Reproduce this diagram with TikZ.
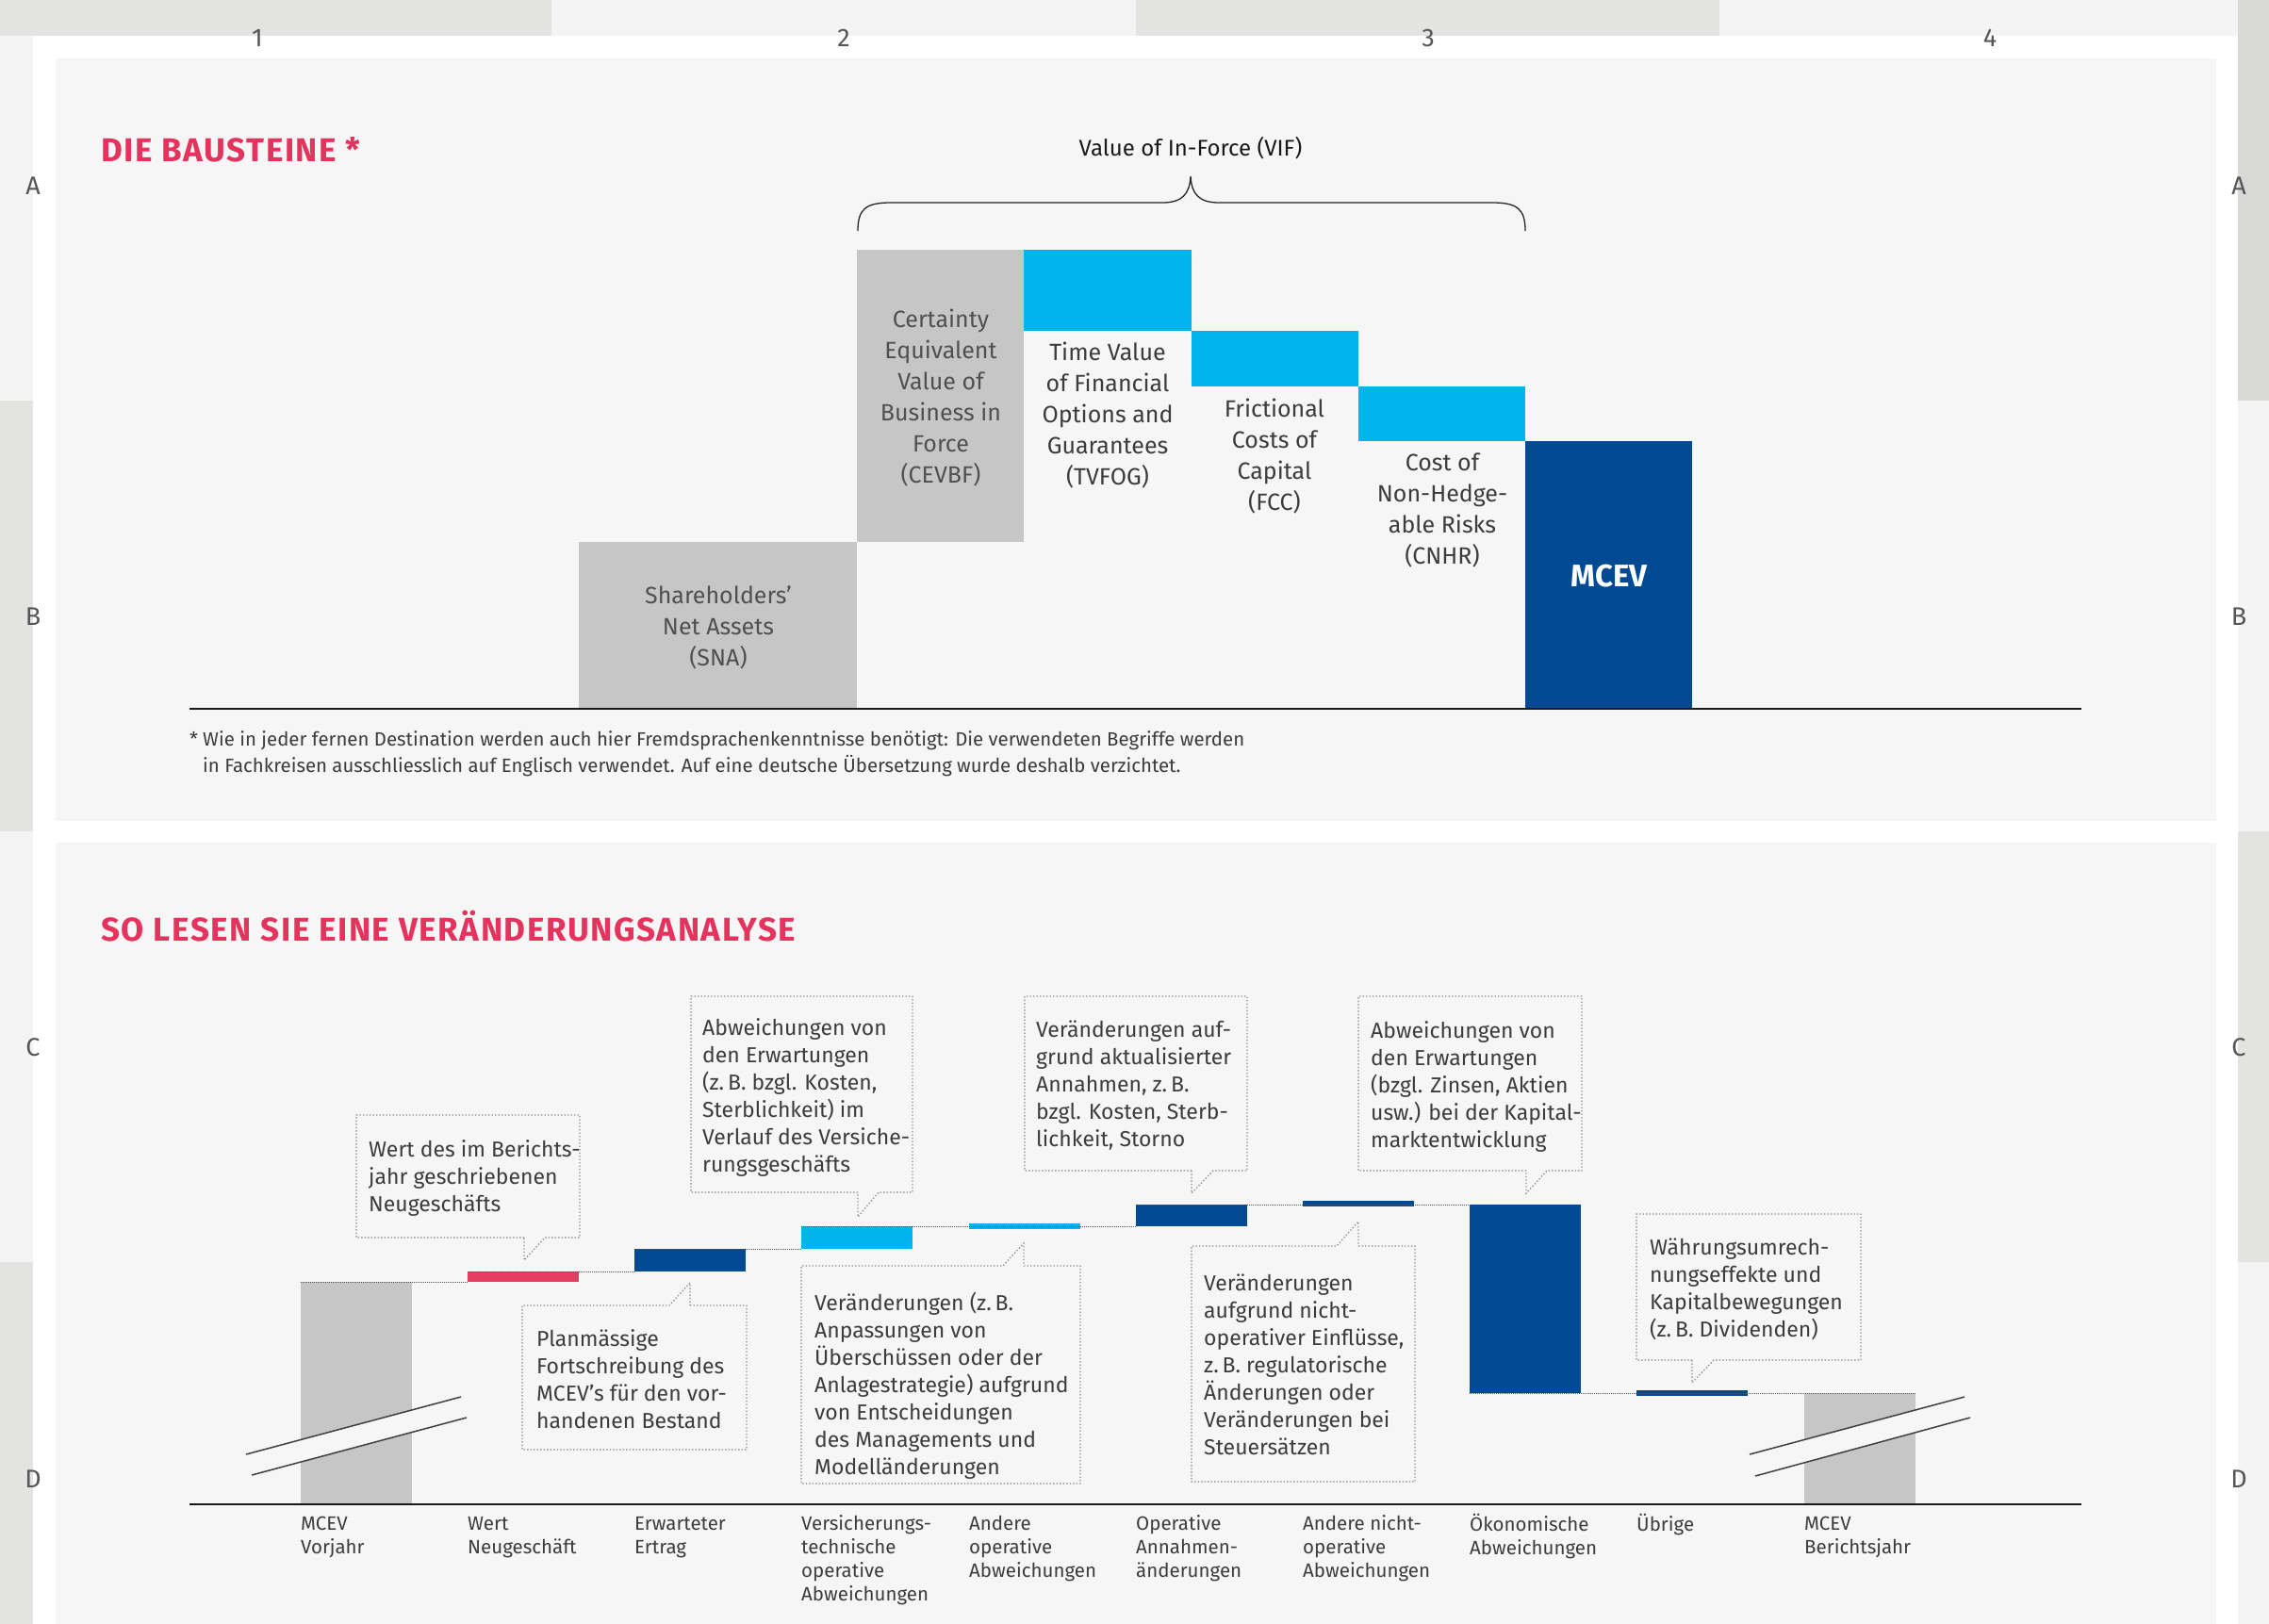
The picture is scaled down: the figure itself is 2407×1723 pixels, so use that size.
\documentclass[tikz,border=0pt]{standalone}
\usepackage{fontspec}
\setmainfont{Fira Sans}
\newfontfamily\titlefont[LetterSpace=4.5]{Fira Sans}
\definecolor{gdark}{HTML}{E3E3E2}
\definecolor{glight}{HTML}{F4F4F4}
\definecolor{panel}{HTML}{F6F6F6}
\definecolor{bargrey}{HTML}{C6C6C6}
\definecolor{cyanbar}{HTML}{00B5EC}
\definecolor{navy}{HTML}{004A93}
\definecolor{pinkbar}{HTML}{E83D63}
\definecolor{titlered}{HTML}{E4335C}
\definecolor{txt}{HTML}{3C3C3C}
\definecolor{txtgrey}{HTML}{505050}
\definecolor{dotc}{HTML}{8A8A8A}
\definecolor{linkc}{HTML}{555555}
\definecolor{gridtxt}{HTML}{555555}
\begin{document}
\begin{tikzpicture}[x=1pt,y=-1pt,
  gridlbl/.style={font=\fontsize{27}{30}\selectfont, text=gridtxt, inner sep=0},
  boxtxt/.style={font=\fontsize{25}{33}\selectfont, align=center, anchor=north, inner sep=0, text=txtgrey},
  blk/.style={anchor=north west, inner sep=0, outer sep=0, draw=none},
  lbl/.style={font=\fontsize{20.5}{25}\selectfont, align=left, anchor=north west, inner sep=0, text=txt},
  note/.style={font=\fontsize{23}{29}\selectfont, align=left, anchor=north west, inner sep=0, text=txt},
  callout/.style={draw=dotc, line width=1.3pt, dash pattern=on 1.3pt off 2.2pt},
  link/.style={draw=linkc, line width=1pt, dash pattern=on 1pt off 1pt},
  axis/.style={draw=black!90, line width=2.5pt},
  breakline/.style={draw=black!75, line width=1.5pt},
  title/.style={font=\titlefont\fontsize{35}{40}\selectfont\bfseries, text=titlered, anchor=base west, inner sep=0}
]
\useasboundingbox (0,0) rectangle (2407,1723);
\fill[white] (0,0) rectangle (2407,1723);
% ---------- frame grid ----------
\fill[gdark] (0,0) rectangle (585,38);
\fill[glight] (585,0) rectangle (1205,38);
\fill[gdark] (1205,0) rectangle (1824,38);
\fill[glight] (1824,0) rectangle (2374,38);
\fill[glight] (0,38) rectangle (35,425);
\fill[gdark] (0,425) rectangle (35,882);
\fill[glight] (0,882) rectangle (35,1339);
\fill[gdark] (0,1339) rectangle (35,1723);
\fill[gdark!95!black] (2374,0) rectangle (2407,425);
\fill[glight] (2374,425) rectangle (2407,882);
\fill[gdark] (2374,882) rectangle (2407,1339);
\fill[glight] (2374,1339) rectangle (2407,1723);
\fill[panel] (59,62) rectangle (2351,871);
\fill[panel] (59,894) rectangle (2351,1723);
\node[gridlbl] (c1) at (273,40) {1};
\node[gridlbl] (c2) at (895,40) {2};
\node[gridlbl] (c3) at (1515,40) {3};
\node[gridlbl] (c4) at (2111,40) {4};
\node[gridlbl] (la) at (35,197) {A};
\node[gridlbl] (lb) at (35,654) {B};
\node[gridlbl] (lc) at (35,1111) {C};
\node[gridlbl] (ld) at (35,1569) {D};
\node[gridlbl] (ra) at (2375,197) {A};
\node[gridlbl] (rb) at (2375,654) {B};
\node[gridlbl] (rc) at (2375,1111) {C};
\node[gridlbl] (rd) at (2375,1569) {D};
% ---------- top chart ----------
\node[title] (t1) at (107,172) {DIE BAUSTEINE *};
\node[blk, fill=bargrey, minimum width=295, minimum height=177] (sna) at (614,575) {};
\node[blk, fill=bargrey, minimum width=177, minimum height=310] (cevbf) at (909,265) {};
\node[blk, fill=cyanbar, minimum width=178, minimum height=86] (tvfog) at (1086,265) {};
\node[blk, fill=cyanbar, minimum width=177, minimum height=59] (fcc) at (1264,351) {};
\node[blk, fill=cyanbar, minimum width=177, minimum height=58] (cnhr) at (1441,410) {};
\node[blk, fill=navy, minimum width=177, minimum height=284] (mcev) at (1618,468) {};
\coordinate (ax1l) at (201,752);
\coordinate (ax1r) at (2208,752);
\draw[axis] (ax1l) -- (ax1r);
\node[boxtxt] (snat) at (762,617) {\strut Shareholders’\\Net Assets\\(SNA)};
\node[boxtxt] (cevbft) at (998,324) {\strut Certainty\\Equivalent\\Value of\\Business in\\Force\\(CEVBF)};
\node[boxtxt, text=txt] (tvfogt) at (1175,359) {\strut Time Value\\of Financial\\Options and\\Guarantees\\(TVFOG)};
\node[boxtxt, text=txt] (fcct) at (1352,419) {\strut Frictional\\Costs of\\Capital\\(FCC)};
\node[boxtxt, text=txt] (cnhrt) at (1530,476) {\strut Cost of\\Non-Hedge-\\able Risks\\(CNHR)};
\node[font=\fontsize{33}{36}\selectfont\bfseries, text=white, inner sep=0] (mcevt) at (1707,611) {MCEV};
\node[font=\fontsize{24}{28}\selectfont, text=black!90, inner sep=0] (vif) at (1263,157) {Value of In-Force (VIF)};
\coordinate (brL) at (910,245);
\coordinate (brR) at (1618,245);
\coordinate (brT) at (1263,187);
\draw[black!85, line width=1.3pt] (brL) .. controls (910,222) and (918,215) .. (945,215) -- (1233,215)
  .. controls (1254,215) and (1262,206) .. (brT) .. controls (1264,206) and (1272,215) .. (1293,215)
  -- (1583,215) .. controls (1610,215) and (1618,222) .. (brR);
\node[font=\fontsize{20.4}{28}\selectfont, text=txt, anchor=north west, inner sep=0] (fnstar) at (201,772) {\strut *};
\node[font=\fontsize{20.4}{28}\selectfont, text=txt, anchor=north west, inner sep=0, align=left] (fn) at (215,772)
  {\strut Wie in jeder fernen Destination werden auch hier Fremdsprachenkenntnisse benötigt: Die verwendeten Begriffe werden\\in Fachkreisen ausschliesslich auf Englisch verwendet. Auf eine deutsche Übersetzung wurde deshalb verzichtet.};
% ---------- bottom chart ----------
\node[title] (t2) at (107,998) {SO LESEN SIE EINE VERÄNDERUNGSANALYSE};
\node[blk, fill=bargrey, minimum width=118, minimum height=236] (vj) at (319,1360) {};
\node[blk, fill=pinkbar, minimum width=118, minimum height=11] (nb) at (496,1349) {};
\node[blk, fill=navy, minimum width=118, minimum height=24] (ee) at (673,1325) {};
\node[blk, fill=cyanbar, minimum width=118, minimum height=24] (vt) at (850,1301) {};
\node[blk, fill=cyanbar, minimum width=118, minimum height=6] (ao) at (1028,1298) {};
\node[blk, fill=navy, minimum width=118, minimum height=23] (oa) at (1205,1278) {};
\node[blk, fill=navy, minimum width=118, minimum height=6] (an) at (1382,1274) {};
\node[blk, fill=navy, minimum width=118, minimum height=200] (ok) at (1559,1278) {};
\node[blk, fill=navy, minimum width=118, minimum height=6] (ub) at (1736,1475) {};
\node[blk, fill=bargrey, minimum width=118, minimum height=118] (bj) at (1914,1478) {};
\draw[link] (vj.north west) -- (nb.south west);
\draw[link] (nb.north west) -- (ee.south west);
\draw[link] (ee.north west) -- (vt.south west);
\draw[link] (vt.north west) -- (oa.south west);
\draw[link] (oa.north west) -- (ok.north west);
\draw[link] (ok.south west) -- (bj.north east);
% break marks
\fill[panel] (261,1543) -- (489,1482) -- (495,1504) -- (267,1565) -- cycle;
\draw[breakline] (261,1543) -- (489,1482);
\draw[breakline] (267,1565) -- (495,1504);
\fill[panel] (1856,1543) -- (2084,1482) -- (2090,1504) -- (1862,1566) -- cycle;
\draw[breakline] (1856,1543) -- (2084,1482);
\draw[breakline] (1862,1566) -- (2090,1504);
\coordinate (ax2l) at (201,1596);
\coordinate (ax2r) at (2208,1596);
\draw[axis] (ax2l) -- (ax2r);
% axis labels
\node[lbl] (l1) at (319,1606) {\strut MCEV\\Vorjahr};
\node[lbl] (l2) at (496,1606) {\strut Wert\\Neugeschäft};
\node[lbl] (l3) at (673,1606) {\strut Erwarteter\\Ertrag};
\node[lbl] (l4) at (850,1606) {\strut Versicherungs-\\technische\\operative\\Abweichungen};
\node[lbl] (l5) at (1028,1606) {\strut Andere\\operative\\Abweichungen};
\node[lbl] (l6) at (1205,1606) {\strut Operative\\Annahmen-\\änderungen};
\node[lbl] (l7) at (1382,1606) {\strut Andere nicht-\\operative\\Abweichungen};
\node[lbl] (l8) at (1559,1606) {\strut Ökonomische\\Abweichungen};
\node[lbl] (l9) at (1736,1606) {\strut Übrige};
\node[lbl] (l10) at (1914,1606) {\strut MCEV\\Berichtsjahr};
% callouts (bottom pointer)
\draw[callout] (556,1313) -- (378,1313) -- (378,1183) -- (615,1183) -- (615,1313) -- (578,1313) -- (556,1337) -- cycle;
\draw[callout] (910,1265) -- (733,1265) -- (733,1057) -- (968,1057) -- (968,1265) -- (932,1265) -- (910,1291) -- cycle;
\draw[callout] (1264,1242) -- (1087,1242) -- (1087,1057) -- (1323,1057) -- (1323,1242) -- (1287,1242) -- (1264,1266) -- cycle;
\draw[callout] (1619,1242) -- (1441,1242) -- (1441,1057) -- (1678,1057) -- (1678,1242) -- (1641,1242) -- (1619,1266) -- cycle;
\draw[callout] (1795,1443) -- (1736,1443) -- (1736,1288) -- (1974,1288) -- (1974,1443) -- (1818,1443) -- (1795,1467) -- cycle;
% callouts (top pointer)
\draw[callout] (732,1385) -- (792,1385) -- (792,1538) -- (554,1538) -- (554,1385) -- (710,1385) -- (732,1361) -- cycle;
\draw[callout] (1086,1343) -- (1146,1343) -- (1146,1574) -- (850,1574) -- (850,1343) -- (1064,1343) -- (1086,1319) -- cycle;
\draw[callout] (1441,1322) -- (1501,1322) -- (1501,1572) -- (1264,1572) -- (1264,1322) -- (1418,1322) -- (1441,1296) -- cycle;
% callout texts
\node[note] (n1) at (391,1207) {\strut Wert des im Berichts-\\jahr geschriebenen\\Neugeschäfts};
\node[note] (n2) at (745,1078) {\strut Abweichungen von\\den Erwartungen\\(z.\,B. bzgl. Kosten,\\Sterblichkeit) im\\Verlauf des Versiche-\\rungsgeschäfts};
\node[note] (n3) at (569,1408) {\strut Planmässige\\Fortschreibung des\\MCEV’s für den vor-\\handenen Bestand};
\node[note] (n4) at (864,1370) {\strut Veränderungen (z.\,B.\\Anpassungen von\\Überschüssen oder der\\Anlagestrategie) aufgrund\\von Entscheidungen\\des Managements und\\Modelländerungen};
\node[note] (n5) at (1099,1080) {\strut Veränderungen auf-\\grund aktualisierter\\Annahmen, z.\,B.\\bzgl. Kosten, Sterb-\\lichkeit, Storno};
\node[note] (n6) at (1277,1349) {\strut Veränderungen\\aufgrund nicht-\\operativer Einflüsse,\\z.\,B. regulatorische\\Änderungen oder\\Veränderungen bei\\Steuersätzen};
\node[note] (n7) at (1454,1081) {\strut Abweichungen von\\den Erwartungen\\(bzgl. Zinsen, Aktien\\usw.) bei der Kapital-\\marktentwicklung};
\node[note] (n8) at (1750,1311) {\strut Währungsumrech-\\nungseffekte und\\Kapitalbewegungen\\(z.\,B. Dividenden)};
\end{tikzpicture}
\end{document}
